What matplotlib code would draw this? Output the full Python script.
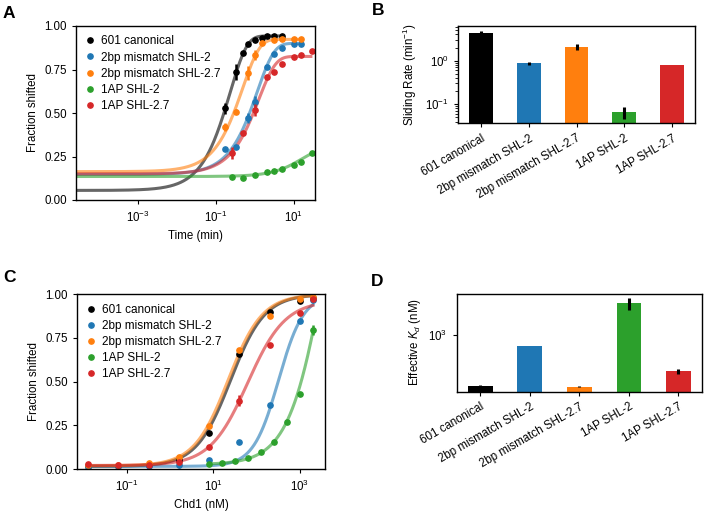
import numpy as np
import matplotlib
matplotlib.use("Agg")
import matplotlib.pyplot as plt
from matplotlib.ticker import NullLocator, NullFormatter

plt.rcParams['font.family'] = ['Liberation Sans', 'DejaVu Sans']
plt.rcParams['mathtext.fontset'] = 'custom'
plt.rcParams['mathtext.rm'] = 'Liberation Sans'
plt.rcParams['mathtext.it'] = 'Liberation Sans:italic'
plt.rcParams['font.size'] = 8.3
plt.rcParams['axes.linewidth'] = 1.0
plt.rcParams['xtick.major.size'] = 3.2
plt.rcParams['ytick.major.size'] = 3.2

NAMES = ['601 canonical', '2bp mismatch SHL-2', '2bp mismatch SHL-2.7', '1AP SHL-2', '1AP SHL-2.7']
COLORS = ['black', 'tab:blue', 'tab:orange', 'tab:green', 'tab:red']

# ---- panel A: sliding time course (min, fraction shifted)
t_black = [0.167, 0.333, 0.5, 0.667, 1, 1.5, 2, 3, 5]
f_black = [0.527, 0.735, 0.843, 0.897, 0.92, 0.933, 0.943, 0.945, 0.945]
e_black = [0.03, 0.045, 0.01, 0.01, 0.005, 0.005, 0.005, 0.005, 0.005]
t_blue = [0.167, 0.333, 0.667, 1, 2, 3, 5, 10, 15]
f_blue = [0.293, 0.306, 0.47, 0.565, 0.766, 0.839, 0.872, 0.895, 0.897]
e_blue = [0.005, 0.005, 0.03, 0.03, 0.01, 0.005, 0.005, 0.005, 0.005]
t_orange = [0.167, 0.333, 0.667, 1, 1.5, 3, 5, 10, 15]
f_orange = [0.42, 0.507, 0.73, 0.833, 0.904, 0.92, 0.923, 0.923, 0.923]
e_orange = [0.025, 0.015, 0.04, 0.03, 0.01, 0.005, 0.005, 0.005, 0.005]
t_green = [0.25, 0.5, 1, 2, 3, 5, 10, 15, 30]
f_green = [0.130, 0.125, 0.144, 0.163, 0.168, 0.176, 0.201, 0.217, 0.268]
e_green = [0.005] * 9
t_red = [0.25, 0.5, 1, 2, 3, 5, 10, 15, 30]
f_red = [0.268, 0.383, 0.517, 0.709, 0.737, 0.78, 0.82, 0.833, 0.856]
e_red = [0.035, 0.01, 0.035, 0.01, 0.005, 0.005, 0.005, 0.005, 0.005]

# single exponential fit parameters (start, plateau) + rates from panel B
fit_start = [0.055, 0.147, 0.163, 0.135, 0.150]
fit_plateau = [0.943, 0.90, 0.923, 0.29, 0.825]

# ---- panel B: sliding rate (min^-1)
rate = [4.37, 0.87, 2.06, 0.066, 0.80]
rate_err = [0.35, 0.06, 0.3, 0.021, 0.01]

# ---- panel C: binding (nM Chd1, fraction shifted)
c_five = [0.0128, 0.064, 0.32, 1.6, 8, 40, 200, 1000, 2000]
b_black = [0.02, 0.02, 0.025, 0.05, 0.208, 0.658, 0.90, 0.962, 0.98]
b_blue = [0.013, 0.016, 0.016, 0.022, 0.052, 0.153, 0.366, 0.849, 0.97]
b_orange = [0.022, 0.022, 0.035, 0.07, 0.248, 0.681, 0.878, 0.971, 0.985]
b_red = [0.026, 0.022, 0.022, 0.04, 0.124, 0.391, 0.71, 0.895, 0.975]
e_red_c = [0.005, 0.005, 0.005, 0.005, 0.005, 0.03, 0.01, 0.005, 0.005]
c_two = [7.8, 15.6, 31.25, 62.5, 125, 250, 500, 1000, 2000]
b_green = [0.027, 0.033, 0.046, 0.061, 0.096, 0.157, 0.271, 0.428, 0.797]
e_green_c = [0.005, 0.005, 0.005, 0.005, 0.005, 0.005, 0.005, 0.008, 0.03]

# hill fit parameters: baseline, top, K (nM), n
hill_base = [0.015, 0.015, 0.018, 0.025, 0.02]
hill_top = [1.0, 1.0, 1.0, 2.5, 0.965]
hill_k = [25, 320, 22, 4500, 62]
hill_n = [1.1, 1.5, 1.1, 1.0, 1.0]

# ---- panel D: effective Kd (nM)
kd = [143, 663, 136, 3400, 248]
kd_err = [3, 5, 2, 800, 25]

W, H = 704, 513
fig = plt.figure(figsize=(W / 100, H / 100), dpi=100)


def box(l, r, t, b):
    return [l / W, (H - b) / H, (r - l) / W, (b - t) / H]


axA = fig.add_axes(box(76, 315, 26, 200))
axB = fig.add_axes(box(458, 695, 26, 123.3))
axC = fig.add_axes(box(77, 325, 294.3, 469))
axD = fig.add_axes(box(456.7, 702, 293.5, 391.5))

# A
times = [t_black, t_blue, t_orange, t_green, t_red]
fracs = [f_black, f_blue, f_orange, f_green, f_red]
errs = [e_black, e_blue, e_orange, e_green, e_red]
for i in range(5):
    tt = np.logspace(-5, np.log10(times[i][-1]), 300)
    fit = fit_start[i] + (fit_plateau[i] - fit_start[i]) * (1 - np.exp(-rate[i] * tt))
    axA.plot(tt, fit, color=COLORS[i], lw=2.2, alpha=0.6, solid_capstyle='butt')
for i in range(5):
    axA.errorbar(times[i], fracs[i], yerr=errs[i], fmt='none', ecolor=COLORS[i], elinewidth=1.8, capsize=0)
    axA.plot(times[i], fracs[i], 'o', color=COLORS[i], ms=3.8, label=NAMES[i])
axA.set_xscale('log')
axA.set_xlim(2.5e-5, 35)
axA.set_ylim(0, 1)
axA.set_yticks([0, 0.25, 0.5, 0.75, 1.0])
axA.xaxis.set_minor_locator(NullLocator())
axA.set_xticks([1e-3, 1e-1, 1e1])
axA.set_xlabel('Time (min)')
axA.set_ylabel('Fraction shifted')
axA.legend(loc='upper left', frameon=False, handlelength=0.8, handletextpad=0.5,
           labelspacing=0.35, borderaxespad=0.4, fontsize=8.5)

# C
concs = [c_five, c_five, c_five, c_two, c_five]
binds = [b_black, b_blue, b_orange, b_green, b_red]
cerrs = [[0.005] * 9, [0.005] * 9, [0.005] * 9, e_green_c, e_red_c]
for i in range(5):
    cc = np.logspace(np.log10(concs[i][0]), np.log10(concs[i][-1]), 300)
    hill = cc ** hill_n[i] / (hill_k[i] ** hill_n[i] + cc ** hill_n[i])
    axC.plot(cc, hill_base[i] + (hill_top[i] - hill_base[i]) * hill, color=COLORS[i], lw=2.2, alpha=0.6)
for i in range(5):
    axC.errorbar(concs[i], binds[i], yerr=cerrs[i], fmt='none', ecolor=COLORS[i], elinewidth=1.8, capsize=0)
    axC.plot(concs[i], binds[i], 'o', color=COLORS[i], ms=3.8, label=NAMES[i])
axC.set_xscale('log')
axC.set_ylim(0, 1)
axC.set_yticks([0, 0.25, 0.5, 0.75, 1.0])
axC.xaxis.set_minor_locator(NullLocator())
axC.set_xticks([1e-1, 1e1, 1e3])
axC.set_xlim(10 ** -2.15, 10 ** 3.58)
axC.set_xlabel('Chd1 (nM)')
axC.set_ylabel('Fraction shifted')
axC.legend(loc='upper left', frameon=False, handlelength=0.8, handletextpad=0.5,
           labelspacing=0.35, borderaxespad=0.4, fontsize=8.5)

# B
x = np.arange(5)
axB.bar(x, rate, width=0.5, color=COLORS)
axB.errorbar(x, rate, yerr=rate_err, fmt='none', ecolor='black', elinewidth=2.2, capsize=0)
axB.set_yscale('log')
axB.set_ylim(0.0366, 6.25)
axB.set_xticks(x)
axB.set_xticklabels(NAMES, rotation=30, ha='right', rotation_mode='anchor')
axB.set_ylabel('Sliding Rate (min$^{-1}$)')

# D
axD.bar(x, kd, width=0.5, color=COLORS)
axD.errorbar(x, kd, yerr=kd_err, fmt='none', ecolor='black', elinewidth=2.2, capsize=0)
axD.set_yscale('log')
axD.set_ylim(113.5, 4955)
axD.yaxis.set_minor_locator(NullLocator())
axD.yaxis.set_minor_formatter(NullFormatter())
axD.set_xticks(x)
axD.set_xticklabels(NAMES, rotation=30, ha='right', rotation_mode='anchor')
axD.set_ylabel('Effective $K_d$ (nM)')

for lab, px, py in [('A', 3, 6), ('B', 372, 3), ('C', 3, 270), ('D', 371, 274)]:
    fig.text(px / W, 1 - py / H, lab, fontsize=12.5, fontweight='bold', ha='left', va='top')

fig.savefig('out.png', dpi=100)
